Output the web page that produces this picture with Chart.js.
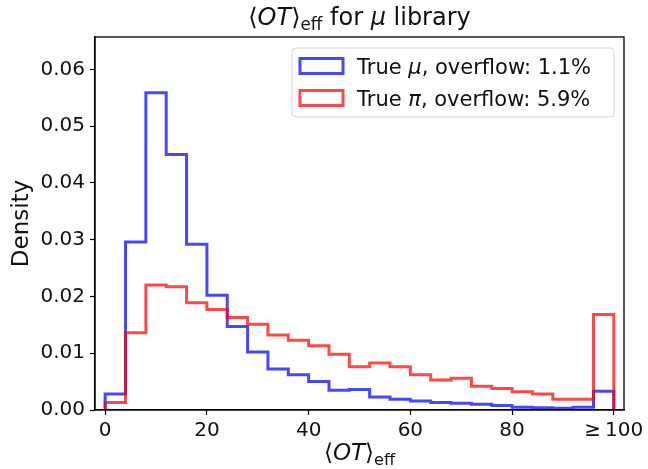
<!DOCTYPE html>
<html>
<head>
<meta charset="utf-8">
<script src="https://cdn.jsdelivr.net/npm/chart.js@4/dist/chart.umd.min.js"></script>
<style>
  html, body { margin: 0; padding: 0; background: #fff; }
  #wrap { width: 648px; height: 469px; position: relative; }
</style>
</head>
<body>
<div id="wrap"><canvas id="chart"></canvas></div>
<script>
// histogram of <OT>_eff, bin width 4, last bin is the overflow (>= 96..100)
const binEdges = [0, 4, 8, 12, 16, 20, 24, 28, 32, 36, 40, 44, 48, 52, 56, 60, 64, 68, 72, 76, 80, 84, 88, 92, 96, 100];
const muDensity = [0.0028, 0.0296, 0.0559, 0.0450, 0.0292, 0.0202, 0.0147, 0.0102, 0.0072, 0.0062,
  0.0050, 0.0035, 0.0036, 0.0023, 0.0019, 0.0016, 0.0013, 0.0012, 0.0010, 0.0008,
  0.0005, 0.0004, 0.0003, 0.0005, 0.0033];
const piDensity = [0.0013, 0.0136, 0.0220, 0.0217, 0.0189, 0.0177, 0.0163, 0.0151, 0.0132, 0.0123,
  0.0113, 0.0098, 0.0076, 0.0083, 0.0076, 0.0062, 0.0053, 0.0056, 0.0042, 0.0038,
  0.0032, 0.0028, 0.0019, 0.0019, 0.0168];
const xTicks = [0, 20, 40, 60, 80, 100];
const xTickLabels = ["0", "20", "40", "60", "80", "\u2265\u2009100"];
const yTicks = [0, 0.01, 0.02, 0.03, 0.04, 0.05, 0.06];
const particles = ["\u03bc", "\u03c0"];
const overflows = ["1.1%", "5.9%"];
const lineColors = ["rgba(0,0,255,0.72)", "rgba(255,0,0,0.72)"];

const FONT = '"DejaVu Sans", sans-serif';

// step outline: up from 0 at the first edge, down to 0 at the last edge
function outline(vals) {
  const pts = [{ x: binEdges[0], y: 0 }];
  vals.forEach((v, i) => pts.push({ x: binEdges[i], y: v }));
  pts.push({ x: binEdges[binEdges.length - 1], y: 0 });
  return pts;
}

// draw text made of pieces: {t, it (italic), sub (subscript)}
function richWidth(ctx, parts, size) {
  let w = 0;
  parts.forEach(p => {
    const s = p.sub ? size * 0.7 : size;
    ctx.font = (p.it ? "italic " : "") + s + "px " + FONT;
    w += ctx.measureText(p.t).width;
  });
  return w;
}
function drawRich(ctx, parts, x, y, size, align) {
  let cx = align === "left" ? x : x - richWidth(ctx, parts, size) / 2;
  ctx.textAlign = "left";
  ctx.textBaseline = "alphabetic";
  parts.forEach(p => {
    const s = p.sub ? size * 0.7 : size;
    ctx.font = (p.it ? "italic " : "") + s + "px " + FONT;
    ctx.fillText(p.t, cx, p.sub ? y + size * 0.22 : y);
    cx += ctx.measureText(p.t).width;
  });
}

const otParts = [{ t: "\u27e8" }, { t: "OT", it: true }, { t: "\u27e9" }, { t: "eff", sub: true }];

const decorations = {
  id: "decorations",
  afterDraw(chart) {
    const ctx = chart.ctx;
    const a = chart.chartArea;
    const cx = (a.left + a.right) / 2;
    ctx.save();
    ctx.fillStyle = "#111";

    // frame on all four sides
    ctx.strokeStyle = "#000";
    ctx.lineWidth = 1.3;
    ctx.strokeRect(a.left, a.top, a.right - a.left, a.bottom - a.top);

    // title and axis labels
    drawRich(ctx, otParts.concat([{ t: " for " }, { t: "\u03bc", it: true }, { t: " library" }]), cx, 25, 24);
    drawRich(ctx, otParts, cx, 460, 23);
    ctx.save();
    ctx.translate(22, (a.top + a.bottom) / 2);
    ctx.rotate(-Math.PI / 2);
    ctx.font = "23px " + FONT;
    ctx.textAlign = "center";
    ctx.textBaseline = "middle";
    ctx.fillText("Density", 0, 0);
    ctx.restore();

    // legend
    const bx = 292, by = 48, bw = 322, bh = 69, r = 4;
    ctx.beginPath();
    ctx.roundRect(bx, by, bw, bh, r);
    ctx.fillStyle = "rgba(255,255,255,0.8)";
    ctx.fill();
    ctx.strokeStyle = "#d6d6d6";
    ctx.lineWidth = 1;
    ctx.stroke();
    particles.forEach((p, i) => {
      const yc = 66 + i * 32;
      ctx.strokeStyle = lineColors[i];
      ctx.lineWidth = 3;
      ctx.strokeRect(300, yc - 7.5, 43, 15);
      ctx.fillStyle = "#111";
      drawRich(ctx, [{ t: "True " }, { t: p, it: true }, { t: ", overflow: " + overflows[i] }], 357, yc + 8, 21, "left");
    });
    ctx.restore();
  }
};

Chart.defaults.font.family = FONT;
Chart.defaults.color = "#111";

new Chart("chart", {
  type: "line",
  data: {
    datasets: [
      { label: "True \u03bc", data: outline(muDensity), borderColor: lineColors[0], order: 1 },
      { label: "True \u03c0", data: outline(piDensity), borderColor: lineColors[1], order: 0 },
    ].map(d => Object.assign(d, {
      stepped: "before", borderWidth: 3, pointRadius: 0, fill: false, tension: 0,
      borderJoinStyle: "miter", borderCapStyle: "butt",
    })),
  },
  options: {
    responsive: true,
    maintainAspectRatio: false,
    animation: false,
    layout: { padding: { top: 37, right: 24, left: 0, bottom: 0 } },
    plugins: {
      legend: { display: false },
      title: { display: false },
      tooltip: { enabled: false },
    },
    scales: {
      x: {
        type: "linear",
        min: -2,
        max: 102,
        afterBuildTicks: s => { s.ticks = xTicks.map(v => ({ value: v })); },
        afterFit: s => { s.height = 59; },
        ticks: {
          autoSkip: false,
          maxRotation: 0,
          padding: 4,
          font: { size: 20 },
          callback: v => xTickLabels[xTicks.indexOf(v)],
        },
        grid: { drawOnChartArea: false, drawTicks: true, tickLength: 5, tickColor: "#000", tickWidth: 1.2 },
        border: { display: true, color: "#000", width: 1.3 },
      },
      y: {
        min: 0,
        max: 0.0657,
        afterBuildTicks: s => { s.ticks = yTicks.map(v => ({ value: v })); },
        afterFit: s => { s.width = 95; },
        ticks: {
          padding: 5,
          font: { size: 20 },
          callback: v => v.toFixed(2),
        },
        grid: { drawOnChartArea: false, drawTicks: true, tickLength: 5, tickColor: "#000", tickWidth: 1.2 },
        border: { display: true, color: "#000", width: 1.3 },
      },
    },
  },
  plugins: [decorations],
});
</script>
</body>
</html>
